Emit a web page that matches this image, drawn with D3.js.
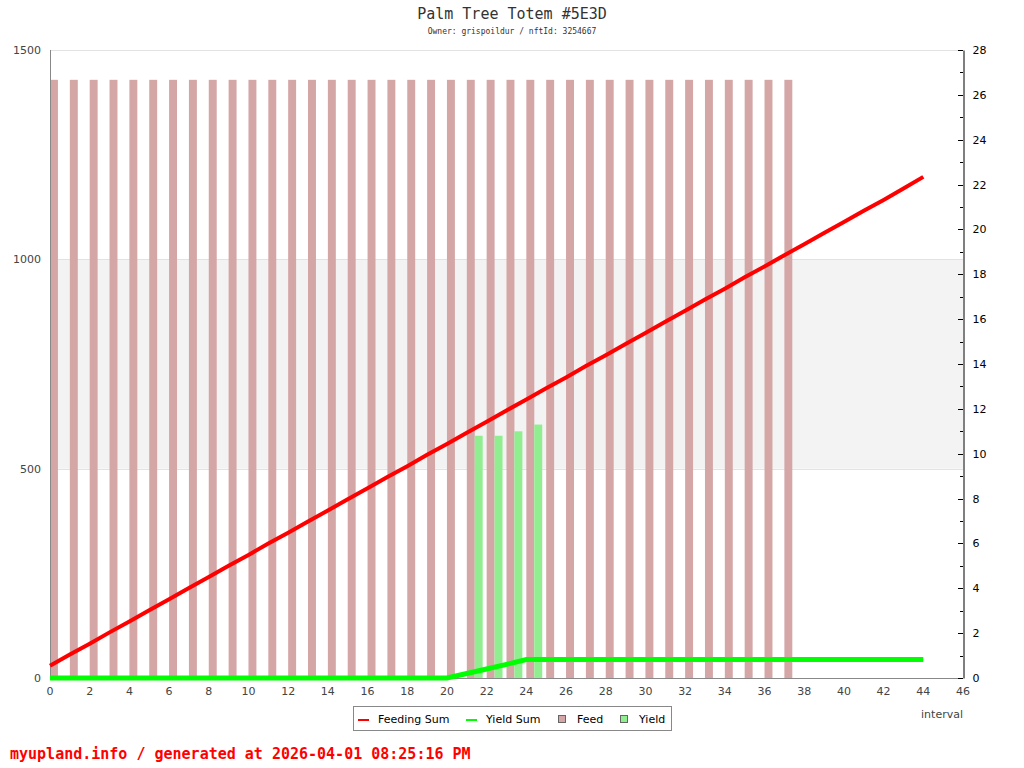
<!DOCTYPE html>
<html>
<head>
<meta charset="utf-8">
<script src="https://cdn.jsdelivr.net/npm/d3@7"></script>
<style>
  body { margin: 0; background: #fff; }
  svg text { font-family: "DejaVu Sans", sans-serif; }
  .mono { font-family: "DejaVu Sans Mono", monospace !important; }
</style>
</head>
<body>
<div id="chart"></div>
<script>
// Valeurs
const intervals = d3.range(0, 45);
const feedingSum = [29, 56, 82, 109, 135, 162, 188, 215, 241, 268,
                    294, 321, 347, 374, 400, 427, 453, 480, 506, 533,
                    559, 586, 612, 639, 665, 692, 718, 745, 771, 798,
                    824, 851, 877, 904, 930, 957, 983, 1010, 1036, 1063,
                    1089, 1116, 1142, 1169, 1197];
const yieldSum = [0, 0, 0, 0, 0, 0, 0, 0, 0, 0,
                  0, 0, 0, 0, 0, 0, 0, 0, 0, 0,
                  0, 10.8, 21.6, 32.6, 43.9, 43.9, 43.9, 43.9, 43.9, 43.9,
                  43.9, 43.9, 43.9, 43.9, 43.9, 43.9, 43.9, 43.9, 43.9, 43.9,
                  43.9, 43.9, 43.9, 43.9, 43.9];
const feed = [26.67, 26.67, 26.67, 26.67, 26.67, 26.67, 26.67, 26.67, 26.67, 26.67,
              26.67, 26.67, 26.67, 26.67, 26.67, 26.67, 26.67, 26.67, 26.67, 26.67,
              26.67, 26.67, 26.67, 26.67, 26.67, 26.67, 26.67, 26.67, 26.67, 26.67,
              26.67, 26.67, 26.67, 26.67, 26.67, 26.67, 26.67, 26.67];
const yieldIntervals = [21, 22, 23, 24];
const yieldValues = [10.8, 10.8, 11.0, 11.3];
const leftTicks = [0, 500, 1000, 1500];
const bands = [[500, 1000]];
const legendItems = [
    { label: 'Feeding Sum', type: 'line', color: '#ff0000' },
    { label: 'Yield Sum', type: 'line', color: '#00ff00' },
    { label: 'Feed', type: 'box', color: '#d4a6a6' },
    { label: 'Yield', type: 'box', color: '#90ee90' }
];

const width = 1024, height = 768;
const margin = { top: 50, right: 61, bottom: 90, left: 50 };

const svg = d3.select('#chart').append('svg')
    .attr('width', width)
    .attr('height', height);

const x = d3.scaleLinear().domain([0, 46]).range([margin.left, width - margin.right]);
const yLeft = d3.scaleLinear().domain([0, 1500]).range([height - margin.bottom, margin.top]);
const yRight = d3.scaleLinear().domain([0, 28]).range([height - margin.bottom, margin.top]);

// Bandes grises
bands.forEach(b => {
    svg.append('rect')
        .attr('x', x(0))
        .attr('y', yLeft(b[1]))
        .attr('width', x(46) - x(0))
        .attr('height', yLeft(b[0]) - yLeft(b[1]))
        .attr('fill', '#f3f3f3');
});

// Lignes de grille
svg.selectAll('.grid')
    .data(leftTicks.filter(d => d > 0))
    .enter()
    .append('line')
    .attr('x1', x(0))
    .attr('x2', x(46))
    .attr('y1', d => Math.round(yLeft(d)) + 0.5)
    .attr('y2', d => Math.round(yLeft(d)) + 0.5)
    .attr('stroke', '#e2e2e2');

// Barres Feed
const barW = x(0.4) - x(0);
svg.selectAll('.feed')
    .data(feed)
    .enter()
    .append('rect')
    .attr('x', (d, i) => x(i))
    .attr('y', d => yRight(d))
    .attr('width', barW)
    .attr('height', d => yRight(0) - yRight(d))
    .attr('fill', '#d4a6a6');

// Barres Yield
svg.selectAll('.yield')
    .data(yieldValues)
    .enter()
    .append('rect')
    .attr('x', (d, i) => x(yieldIntervals[i] + 0.4))
    .attr('y', d => yRight(d))
    .attr('width', barW)
    .attr('height', d => yRight(0) - yRight(d))
    .attr('fill', '#90ee90');

// Axes
const axisColor = '#888';
svg.append('line')
    .attr('x1', x(0) + 0.5).attr('x2', x(0) + 0.5)
    .attr('y1', yLeft(1500)).attr('y2', yLeft(0))
    .attr('stroke', axisColor);
svg.append('line')
    .attr('x1', x(0)).attr('x2', x(46))
    .attr('y1', yLeft(0) + 0.5).attr('y2', yLeft(0) + 0.5)
    .attr('stroke', axisColor);

svg.selectAll('.ltick')
    .data(leftTicks)
    .enter()
    .append('text')
    .attr('x', x(0) - 9)
    .attr('y', d => yLeft(d) + 4)
    .attr('text-anchor', 'end')
    .style('font-size', '11px')
    .attr('fill', '#444')
    .text(d => d);

svg.selectAll('.xtick')
    .data(d3.range(0, 47, 2))
    .enter()
    .append('text')
    .attr('x', d => x(d))
    .attr('y', yLeft(0) + 17)
    .attr('text-anchor', 'middle')
    .style('font-size', '11px')
    .attr('fill', '#444')
    .text(d => d);

svg.append('g')
    .attr('transform', `translate(${x(46) + 0.5},0)`)
    .call(d3.axisRight(yRight).tickValues(d3.range(0, 29, 2)).tickSize(0).tickPadding(9))
    .call(g => g.select('.domain').attr('stroke', '#000'))
    .call(g => g.selectAll('text').style('font-size', '11px').attr('fill', '#000')
        .style('font-family', '"DejaVu Sans", sans-serif'));

svg.selectAll('.rtick')
    .data(d3.range(0, 29, 1))
    .enter()
    .append('line')
    .attr('x1', d => x(46) - (d % 2 === 0 ? 5 : 3))
    .attr('x2', x(46))
    .attr('y1', d => Math.round(yRight(d)) + 0.5)
    .attr('y2', d => Math.round(yRight(d)) + 0.5)
    .attr('stroke', '#000');

// Lignes
const lineLeft = d3.line()
    .x((d, i) => x(intervals[i]))
    .y(d => yLeft(d));

svg.append('path')
    .datum(feedingSum)
    .attr('d', lineLeft)
    .attr('fill', 'none')
    .attr('stroke', '#ff0000')
    .attr('stroke-width', 4);

svg.append('path')
    .datum(yieldSum)
    .attr('d', lineLeft)
    .attr('fill', 'none')
    .attr('stroke', '#00ff00')
    .attr('stroke-width', 5);

// Titre
svg.append('text')
    .attr('class', 'mono')
    .attr('x', 512)
    .attr('y', 19)
    .attr('text-anchor', 'middle')
    .style('font-size', '15px')
    .attr('fill', '#333')
    .text('Palm Tree Totem #5E3D');

svg.append('text')
    .attr('class', 'mono')
    .attr('x', 512)
    .attr('y', 34)
    .attr('text-anchor', 'middle')
    .style('font-size', '8px')
    .attr('fill', '#333')
    .text('Owner: grispoildur / nftId: 3254667');

// Label axe X
svg.append('text')
    .attr('x', x(46))
    .attr('y', 718)
    .attr('text-anchor', 'end')
    .style('font-size', '11px')
    .attr('fill', '#444')
    .text('interval');

// Légende
const legend = svg.append('g').attr('transform', 'translate(353,706)');
legend.append('rect')
    .attr('x', 0.5).attr('y', 0.5)
    .attr('width', 318).attr('height', 24)
    .attr('fill', '#fff')
    .attr('stroke', '#888');

const legendX = [5, 113, 205, 267];
legendItems.forEach((item, i) => {
    const g = legend.append('g').attr('transform', `translate(${legendX[i]},0)`);
    if (item.type === 'line') {
        g.append('line')
            .attr('x1', 0).attr('x2', 11)
            .attr('y1', 14).attr('y2', 14)
            .attr('stroke', item.color)
            .attr('stroke-width', 2);
    } else {
        g.append('rect')
            .attr('x', 0.5).attr('y', 9.5)
            .attr('width', 7).attr('height', 7)
            .attr('fill', item.color)
            .attr('stroke', '#666');
    }
    g.append('text')
        .attr('x', item.type === 'line' ? 20 : 19)
        .attr('y', 17)
        .style('font-size', '11px')
        .attr('fill', '#000')
        .text(item.label);
});

// Pied de page
svg.append('text')
    .attr('class', 'mono')
    .attr('x', 10)
    .attr('y', 759)
    .style('font-size', '15px')
    .style('font-weight', 'bold')
    .attr('fill', '#ff0000')
    .text('myupland.info / generated at 2026-04-01 08:25:16 PM');
</script>
</body>
</html>
